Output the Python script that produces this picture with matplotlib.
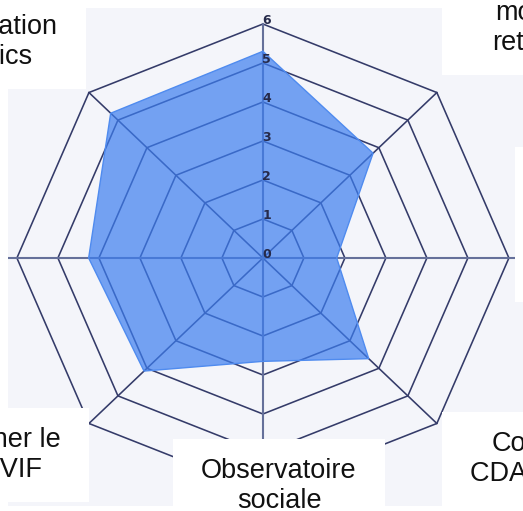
import numpy as np
import matplotlib
matplotlib.use("Agg")
import matplotlib.pyplot as plt

# ---------------- data ----------------
categories = [
    "Accès\naux droits",
    "Soutien à la\nmobilité\nretraités",
    "Partenariats\navec les\nacteurs\nlocaux",
    "Coordination\nCDAPH / MDPH",
    "Observatoire\nsociale",
    "Coordonner le\nréseau VIF",
    "Accueil et\norientation",
    "Communication\ndes publics",
]
values = [5.3, 3.8, 1.8, 3.65, 2.65, 4.1, 4.25, 5.25]
ring_levels = [0, 1, 2, 3, 4, 5, 6]
tick_labels = ["0", "1", "2", "3", "4", "5", "6"]

# ---------------- layout ----------------
W, H = 523, 511
fig = plt.figure(figsize=(W / 100, H / 100), dpi=100)
fig.patch.set_facecolor("white")

left_px, top_px, bottom_px = 8, 8, 506
ax = fig.add_axes([left_px / W, (H - bottom_px) / H, (W - left_px) / W, (bottom_px - top_px) / H])
ax.set_facecolor("#f4f5fa")
for s in ax.spines.values():
    s.set_visible(False)
ax.set_xticks([])
ax.set_yticks([])

cx, cy = 262.9, 258.0    # centre in pixels
sx, sy = 41.0, 39.0      # pixels per unit
ax.set_xlim((left_px - cx) / sx, (W - cx) / sx)
ax.set_ylim((cy - bottom_px) / sy, (cy - top_px) / sy)


def px2d(px, py):
    return (px - cx) / sx, (cy - py) / sy


n = len(categories)
theta = np.arange(n) * 2 * np.pi / n
ux, uy = np.sin(theta), np.cos(theta)
rmax = ring_levels[-1]

ring_col = "#343b69"
axis_col = "#65709a"

# rings (octagons)
for r in ring_levels[1:]:
    xs = np.append(r * ux, r * ux[0])
    ys = np.append(r * uy, r * uy[0])
    ax.plot(xs, ys, color=ring_col, lw=1.15, zorder=1)

# diagonal spokes
for i in range(n):
    if i % 2 == 1:
        ax.plot([0, rmax * ux[i]], [0, rmax * uy[i]], color=ring_col, lw=1.15, zorder=1)
# vertical and horizontal axes
ax.plot([0, 0], [-rmax, rmax], color=axis_col, lw=1.5, zorder=1)
x0, x1 = ax.get_xlim()
ax.plot([x0, x1], [0, 0], color=axis_col, lw=1.5, zorder=1)

# data polygon
v = np.array(values)
px_ = np.append(v * ux, v[0] * ux[0])
py_ = np.append(v * uy, v[0] * uy[0])
ax.fill(px_, py_, color="#3d7ef0", alpha=0.7, lw=0, zorder=3)
ax.plot(px_, py_, color="#4f8bef", lw=1.0, zorder=4)

# radial tick labels
for r, t in zip(ring_levels, tick_labels):
    ax.text(0.093, r, t, ha="center", va="baseline", fontsize=9,
            fontweight="bold", color="#262a4a", family="DejaVu Sans", zorder=6)

# category labels (positions in pixels; y = baseline of last line)
label_pos = [
    (280, -60, "center", "bottom"),
    (470, 50, "left", "baseline"),
    (543, 224.5, "left", "center"),
    (470, 481, "left", "baseline"),
    (279, 508, "center", "baseline"),
    (61, 477, "right", "baseline"),
    (-30, 258, "right", "center"),
    (58, 64, "right", "baseline"),
]
for name, (lx, ly, ha, va) in zip(categories, label_pos):
    x, y = px2d(lx, ly)
    ax.text(x, y, name, ha=ha, va=va, multialignment="center",
            fontsize=19.5, family="Liberation Sans", color="#111111",
            linespacing=1.2, zorder=7, clip_on=False,
            bbox=dict(boxstyle="square,pad=1.05", fc="white", ec="none",
                      mutation_aspect=0.68))

fig.savefig("out.png", dpi=100, facecolor="white")
